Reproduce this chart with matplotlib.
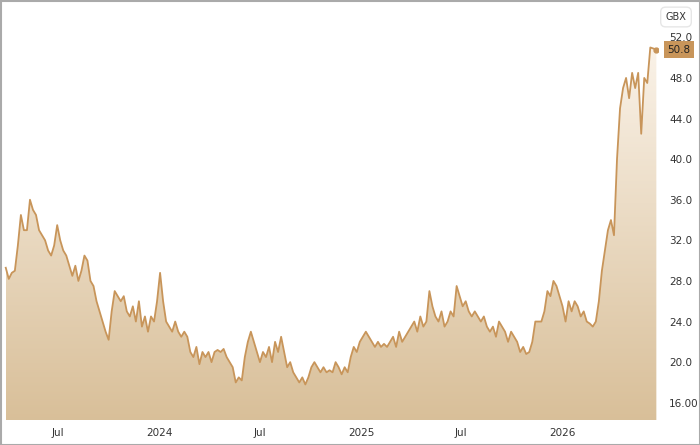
import numpy as np
import pandas as pd
import matplotlib
matplotlib.use("Agg")
import matplotlib.pyplot as plt
import matplotlib.dates as mdates
from matplotlib.patches import Rectangle

# price in GBX, roughly every 5-6 days
prices = [29.3, 28.2, 28.8, 29.0, 31.5, 34.5, 33.0, 33.0, 36.0, 35.0, 34.5, 33.0, 32.5, 32.0,
          31.0, 30.5, 31.5, 33.5, 32.0, 31.0, 30.5, 29.5, 28.5, 29.5, 28.0, 29.0, 30.5, 30.0,
          28.0, 27.5, 26.0, 25.0, 24.0, 23.0, 22.2, 25.0, 27.0, 26.5, 26.0, 26.5, 25.0, 24.5,
          25.5, 24.0, 26.0, 23.5, 24.5, 23.0, 24.5, 24.0, 26.0, 28.8, 26.0, 24.0, 23.5, 23.0,
          24.0, 23.0, 22.5, 23.0, 22.5, 21.0, 20.5, 21.5, 19.8, 21.0, 20.5, 21.0, 20.0, 21.0,
          21.2, 21.0, 21.3, 20.5, 20.0, 19.5, 18.0, 18.5, 18.2, 20.5, 22.0, 23.0, 22.0, 21.0,
          20.0, 21.0, 20.5, 21.5, 20.0, 22.0, 21.0, 22.5, 21.0, 19.5, 20.0, 19.0, 18.5, 18.0,
          18.5, 17.8, 18.5, 19.5, 20.0, 19.5, 19.0, 19.5, 19.0, 19.2, 19.0, 20.0, 19.5, 18.8,
          19.5, 19.0, 20.5, 21.5, 21.0, 22.0, 22.5, 23.0, 22.5, 22.0, 21.5, 22.0, 21.5, 21.8,
          21.5, 22.0, 22.5, 21.5, 23.0, 22.0, 22.5, 23.0, 23.5, 24.0, 23.0, 24.5, 23.5, 24.0,
          27.0, 25.5, 24.5, 24.0, 25.0, 23.5, 24.0, 25.0, 24.5, 27.5, 26.5, 25.5, 26.0, 25.0,
          24.5, 25.0, 24.5, 24.0, 24.5, 23.5, 23.0, 23.5, 22.5, 24.0, 23.5, 23.0, 22.0, 23.0,
          22.5, 22.0, 21.0, 21.5, 20.8, 21.0, 22.0, 24.0, 24.0, 24.0, 25.0, 27.0, 26.5, 28.0,
          27.5, 26.5, 25.5, 24.0, 26.0, 25.0, 26.0, 25.5, 24.5, 25.0, 24.0, 23.8, 23.5, 24.0,
          26.0, 29.0, 31.0, 33.0, 34.0, 32.5, 40.0, 45.0, 47.0, 48.0, 46.0, 48.5, 47.0, 48.5,
          42.5, 48.0, 47.5, 51.0, 50.9, 50.8]
dates = pd.date_range("2023-03-28", "2026-06-20", periods=len(prices))
yticks = [16, 20, 24, 28, 32, 36, 40, 44, 48, 52]
ytick_labels = ["16.00", "20.0", "24.0", "28.0", "32.0", "36.0", "40.0", "44.0", "48.0", "52.0"]
last_price = 50.8

line_col = "#c8955a"
W, H = 700, 445
fig = plt.figure(figsize=(W / 100, H / 100), dpi=100)
fig.patch.set_facecolor("white")
fig.add_artist(Rectangle((0.5 / W, 0.5 / H), 1 - 1 / W, 1 - 1 / H, transform=fig.transFigure,
                         fill=False, edgecolor="#aaaaaa", lw=1.5))
ax = fig.add_axes([3 / W, 25 / H, 655 / W, 405 / H])
x = mdates.date2num(dates)
ymin, ymax = 14.3, 54.2
ax.set_xlim(mdates.date2num(pd.Timestamp("2023-03-23")), mdates.date2num(pd.Timestamp("2026-06-23")))
ax.set_ylim(ymin, ymax)

# gradient fill under the line
grad = np.linspace(0, 1, 256).reshape(-1, 1)
top = np.array([0.98, 0.95, 0.91])
bot = np.array([0.85, 0.75, 0.60])
img = top * (1 - grad[..., None]) + bot * grad[..., None]
img = img.reshape(256, 1, 3)
poly = ax.fill_between(x, prices, ymin, color="none")
im = ax.imshow(img, aspect="auto", extent=[x[0], x[-1], ymin, max(prices)], zorder=1)
im.set_clip_path(poly.get_paths()[0], transform=ax.transData)
ax.plot(x, prices, color=line_col, lw=1.3, zorder=2)
ax.plot(x[-1], prices[-1], "o", color=line_col, ms=3.5, zorder=3)

for s in ax.spines.values():
    s.set_visible(False)
ax.yaxis.tick_right()
ax.set_yticks(yticks)
ax.set_yticklabels(ytick_labels)
ax.tick_params(axis="y", length=0, pad=8, labelsize=7.5, colors="#333333")
ax.xaxis.set_major_locator(mdates.MonthLocator(bymonth=[1, 7]))
ax.xaxis.set_major_formatter(plt.FuncFormatter(
    lambda v, p: mdates.num2date(v).strftime("%Y") if mdates.num2date(v).month == 1 else "Jul"))
ax.tick_params(axis="x", length=0, pad=6, labelsize=7.5, colors="#333333")

fig.text(679 / W, 0, "", fontsize=1)
ax.text(1.0 + 21 / 655, last_price, f"{last_price}", transform=ax.get_yaxis_transform(),
        ha="center", va="center", fontsize=7.5, color="#222222",
        bbox=dict(boxstyle="square,pad=0.3", fc=line_col, ec="none"))
fig.text(676 / W, 1 - 17 / H, "GBX", ha="center", va="center", fontsize=7, color="#333333",
         bbox=dict(boxstyle="round,pad=0.5", fc="white", ec="#e6e6e6"))

fig.savefig("out.png", dpi=100)
